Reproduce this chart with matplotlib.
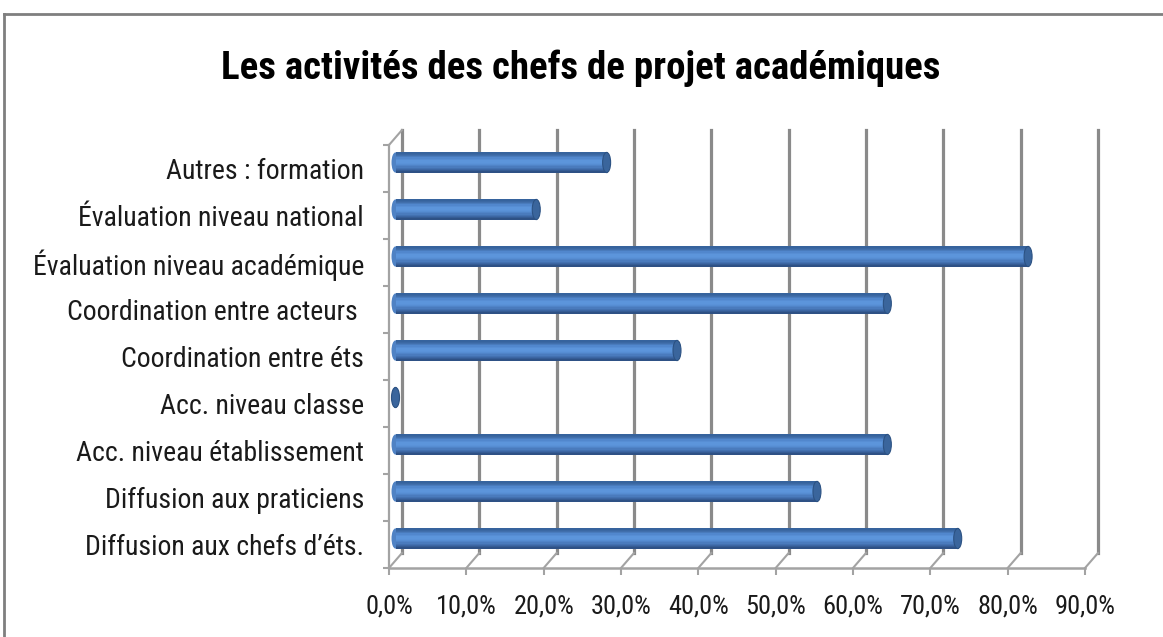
import numpy as np
import matplotlib
matplotlib.use("Agg")
import matplotlib.pyplot as plt
from matplotlib import font_manager
from matplotlib.patches import Ellipse
from matplotlib.lines import Line2D
from matplotlib.colors import to_rgb

# --- data (bottom to top, as drawn) ---
categories = ["Diffusion aux chefs d’éts.", "Diffusion aux praticiens", "Acc. niveau établissement",
              "Acc. niveau classe", "Coordination entre éts", "Coordination entre acteurs ",
              "Évaluation niveau académique", "Évaluation niveau national", "Autres : formation"]
values = [72.7, 54.5, 63.6, 0.0, 36.4, 63.6, 81.8, 18.2, 27.3]
xticks = [0, 10, 20, 30, 40, 50, 60, 70, 80, 90]
xlabels = [f"{t:.1f}%".replace(".", ",") for t in xticks]
title = "Les activités des chefs de projet académiques"


def pick(fams):
    for f in fams:
        try:
            font_manager.findfont(f, fallback_to_default=False)
            return f
        except ValueError:
            pass
    return "DejaVu Sans"


FONT = pick(["Liberation Sans Narrow", "Roboto Condensed", "DejaVu Sans Condensed"])
SC = 1.0 if FONT != "DejaVu Sans" else 0.74

W, H = 1163, 637
fig = plt.figure(figsize=(W / 100, H / 100), dpi=100)
fig.patch.set_facecolor("white")
# front plane of the 3D box
x0, x1, ytop, ybot = 389, 1085, 145, 568
ax = fig.add_axes([x0 / W, (H - ybot) / H, (x1 - x0) / W, (ybot - ytop) / H])
ax.set_xlim(0, 90)
ax.set_ylim(-0.5, len(categories) - 0.5)
ax.patch.set_visible(False)
for s in ax.spines.values():
    s.set_visible(False)

PXX = (x1 - x0) / 90
PXY = (ybot - ytop) / len(categories)
BDX, BDY = 13 / PXX, 15 / PXY          # back wall offset
BARDX, BARDY = 6.5 / PXX, 6 / PXY      # bars sit mid-depth
ymin, ymax = -0.5, len(categories) - 0.5
GRID = "#8a8a8a"
AXC = "#a3a3a3"

# back wall gridlines + floor diagonals
for t in xticks:
    ax.plot([t + BDX] * 2, [ymin + BDY, ymax + BDY], color=GRID, lw=2.3, clip_on=False, zorder=1)
    ax.plot([t, t + BDX], [ymin, ymin + BDY], color=AXC, lw=1.5, clip_on=False, zorder=1)
ax.plot([0, 90], [ymin, ymin], color=AXC, lw=1.8, clip_on=False, zorder=1)
ax.plot([0, 0], [ymin, ymax], color=AXC, lw=1.6, clip_on=False, zorder=1)
ax.plot([0, BDX], [ymax, ymax + BDY], color=AXC, lw=1.5, clip_on=False, zorder=1)

# cylinder-like bars: stacked strips with a vertical gradient
ys = np.arange(len(categories))
h = 0.43
keys = ["#2b4c7e", "#3a64a0", "#4a7cbe", "#5890d6", "#5e97dd", "#5288ce", "#3f6ca8", "#34609a"]
kc = np.array([to_rgb(c) for c in keys])
n = 16
pos = np.linspace(0, 1, len(keys))
capw = 8 / PXX
for i in range(len(categories)):
    ax.add_patch(Ellipse((BARDX, ys[i] + BARDY), capw, h, fc="#4f82c4", ec="none", zorder=2.5))
for k in range(n):
    f = (k + 0.5) / n
    col = [np.interp(f, pos, kc[:, j]) for j in range(3)]
    ax.barh(ys + BARDY - h / 2 + (k + 0.5) * h / n, values, height=h / n * 1.02, left=BARDX,
            color=col, lw=0, zorder=3)
for v, y in zip(values, ys):
    ax.add_patch(Ellipse((BARDX + v, y + BARDY), capw, h, fc="#3a659c", ec="#2c5283",
                         lw=0.8, zorder=4))

# ticks and labels
ax.set_xticks(xticks)
ax.set_xticklabels(xlabels, fontsize=19 * SC, family=FONT, color="#1a1a1a")
ax.tick_params(axis="x", length=5, width=1.5, color=AXC, pad=14)
ax.set_yticks(ys)
ax.set_yticklabels(categories, fontsize=20 * SC, family=FONT, color="#1a1a1a")
ax.tick_params(axis="y", which="major", length=0, pad=18)
ax.set_yticks(np.arange(ymin, ymax + 0.01, 1), minor=True)
ax.tick_params(axis="y", which="minor", length=4.5, width=1.5, color=AXC)

# title and outer frame
fig.text(581 / W, 1 - 68 / H, title, ha="center", va="center", fontsize=28 * SC,
         fontweight="bold", family=FONT, color="black")
fig.add_artist(Line2D([4 / W, 4 / W], [0, 1 - 14 / H], color="#7f7f7f", lw=2))
fig.add_artist(Line2D([4 / W, 1], [1 - 14 / H, 1 - 14 / H], color="#7f7f7f", lw=2))

fig.savefig("out.png", dpi=100, facecolor="white")
